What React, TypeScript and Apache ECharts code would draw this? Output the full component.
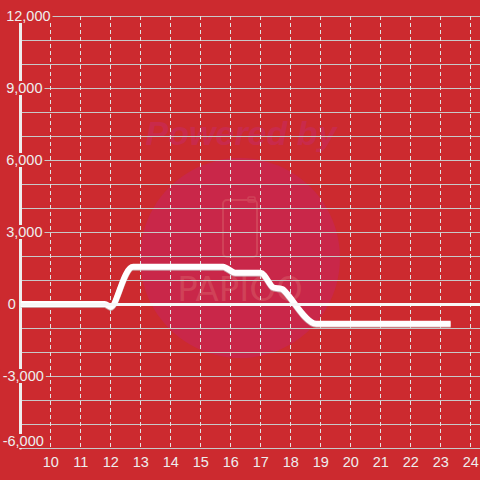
import React, { useEffect, useRef } from 'react';
import * as echarts from 'echarts';

// Data
const times = [9, 11.8, 12, 12.75, 15.75, 16.15, 17.0, 17.4, 17.75, 18.85, 23.33];
const values = [0, 0, -120, 1550, 1550, 1300, 1300, 700, 600, -820, -820];

const xMin = 9;
const xMax = 24.31;
const xStep = 1;
const yMin = -6000;
const yMax = 12000;
const yStep = 3000;

const BG = '#cc2a2f';
const FONT = '"Liberation Sans", Arial, sans-serif';
const FS = 14.5;

function fmt(v: number): string {
  const s = Math.abs(v).toLocaleString('en-US');
  return v < 0 ? '-' + s : s;
}

export default function App() {
  const ref = useRef<HTMLDivElement>(null);
  useEffect(() => {
    if (!ref.current) return;
    const chart = echarts.init(ref.current, undefined, { renderer: 'svg' });
    const tokenBase = { color: '#eeeeee', fontSize: FS, fontFamily: FONT, lineHeight: 14 };
    chart.setOption({
      animation: false,
      backgroundColor: BG,
      grid: { left: 20.7, right: 0, top: 16, bottom: 32, containLabel: false, outerBoundsMode: 'none' },
      graphic: [
        {
          type: 'circle',
          silent: true,
          z: -10,
          shape: { cx: 240, cy: 258, r: 100 },
          style: { fill: '#c92749' },
        },
        {
          type: 'text',
          silent: true,
          z: -10,
          x: 241,
          y: 133,
          style: {
            text: 'Powered by',
            font: 'italic bold 34px "Liberation Sans", Arial, sans-serif',
            fill: '#c92a4b',
            align: 'center',
            verticalAlign: 'middle',
          },
        },
        {
          type: 'rect',
          silent: true,
          z: -9,
          shape: { x: 223, y: 200, width: 34, height: 57, r: 4 },
          style: { fill: 'none', stroke: '#d04258', lineWidth: 2 },
        },
        {
          type: 'rect',
          silent: true,
          z: -9,
          shape: { x: 248, y: 197, width: 7, height: 5, r: 1 },
          style: { fill: 'none', stroke: '#d04258', lineWidth: 1.5 },
        },
        {
          type: 'text',
          silent: true,
          z: -9,
          x: 240,
          y: 289,
          style: {
            text: 'PAPIOO',
            font: '34px "DejaVu Sans", sans-serif',
            fill: '#d04258',
            align: 'center',
            verticalAlign: 'middle',
          },
        },
      ],
      xAxis: {
        type: 'value',
        min: xMin,
        max: xMax,
        interval: xStep,
        position: 'bottom',
        axisLine: { show: false, onZero: false },
        axisTick: { show: false },
        splitLine: { show: true, showMinLine: false, showMaxLine: false, lineStyle: { color: '#e2e2e2', width: 1, type: [4, 3] } },
        axisLabel: {
          color: '#eeeeee',
          fontSize: FS,
          fontFamily: FONT,
          margin: 6,
          formatter: (v: number) => (v >= 10 && Math.abs(v - Math.round(v)) < 1e-6 ? String(Math.round(v)) : ''),
        },
      },
      yAxis: {
        type: 'value',
        min: yMin,
        max: yMax,
        interval: yStep,
        axisLine: { show: true, lineStyle: { color: '#eeeeee', width: 3 } },
        axisTick: { show: false },
        minorTick: { show: false, splitNumber: 3 },
        splitLine: { show: true, lineStyle: { color: '#c8c8c8', width: 1 } },
        minorSplitLine: { show: true, lineStyle: { color: '#c8c8c8', width: 1 } },
        axisLabel: {
          margin: 20,
          align: 'left',
          color: '#eeeeee',
          fontSize: FS,
          fontFamily: FONT,
          lineHeight: 14,
          backgroundColor: BG,
          padding: [0, 2, 0, 2],
          verticalAlignMinLabel: 'bottom',
          formatter: (v: number) => {
            if (v === 0) return '{z|0}';
            if (v < 0) return '{n|' + fmt(v) + '}';
            return '{p|' + fmt(v) + '}';
          },
          rich: {
            z: { ...tokenBase, padding: [0, 0, 0, 5] },
            n: { ...tokenBase },
            p: { ...tokenBase, padding: [0, 0, 0, 3.5] },
          },
        },
      },
      series: [
        {
          type: 'line',
          data: times.map((t, i) => [t, values[i]]),
          showSymbol: false,
          symbol: 'none',
          smooth: 0.25,
          lineStyle: {
            color: '#ffffff',
            width: 6,
            cap: 'butt',
            join: 'round',
            shadowColor: 'rgba(200,200,200,0.7)',
            shadowBlur: 0,
            shadowOffsetY: 1,
          },
          markLine: {
            silent: true,
            symbol: 'none',
            label: { show: false },
            lineStyle: { color: '#f7f7f7', width: 3, type: 'solid' },
            data: [{ yAxis: 0 }],
          },
        },
      ],
    });
    return () => chart.dispose();
  }, []);
  return <div ref={ref} style={{ position: 'fixed', left: 0, top: 0, width: 480, height: 480 }} />;
}
